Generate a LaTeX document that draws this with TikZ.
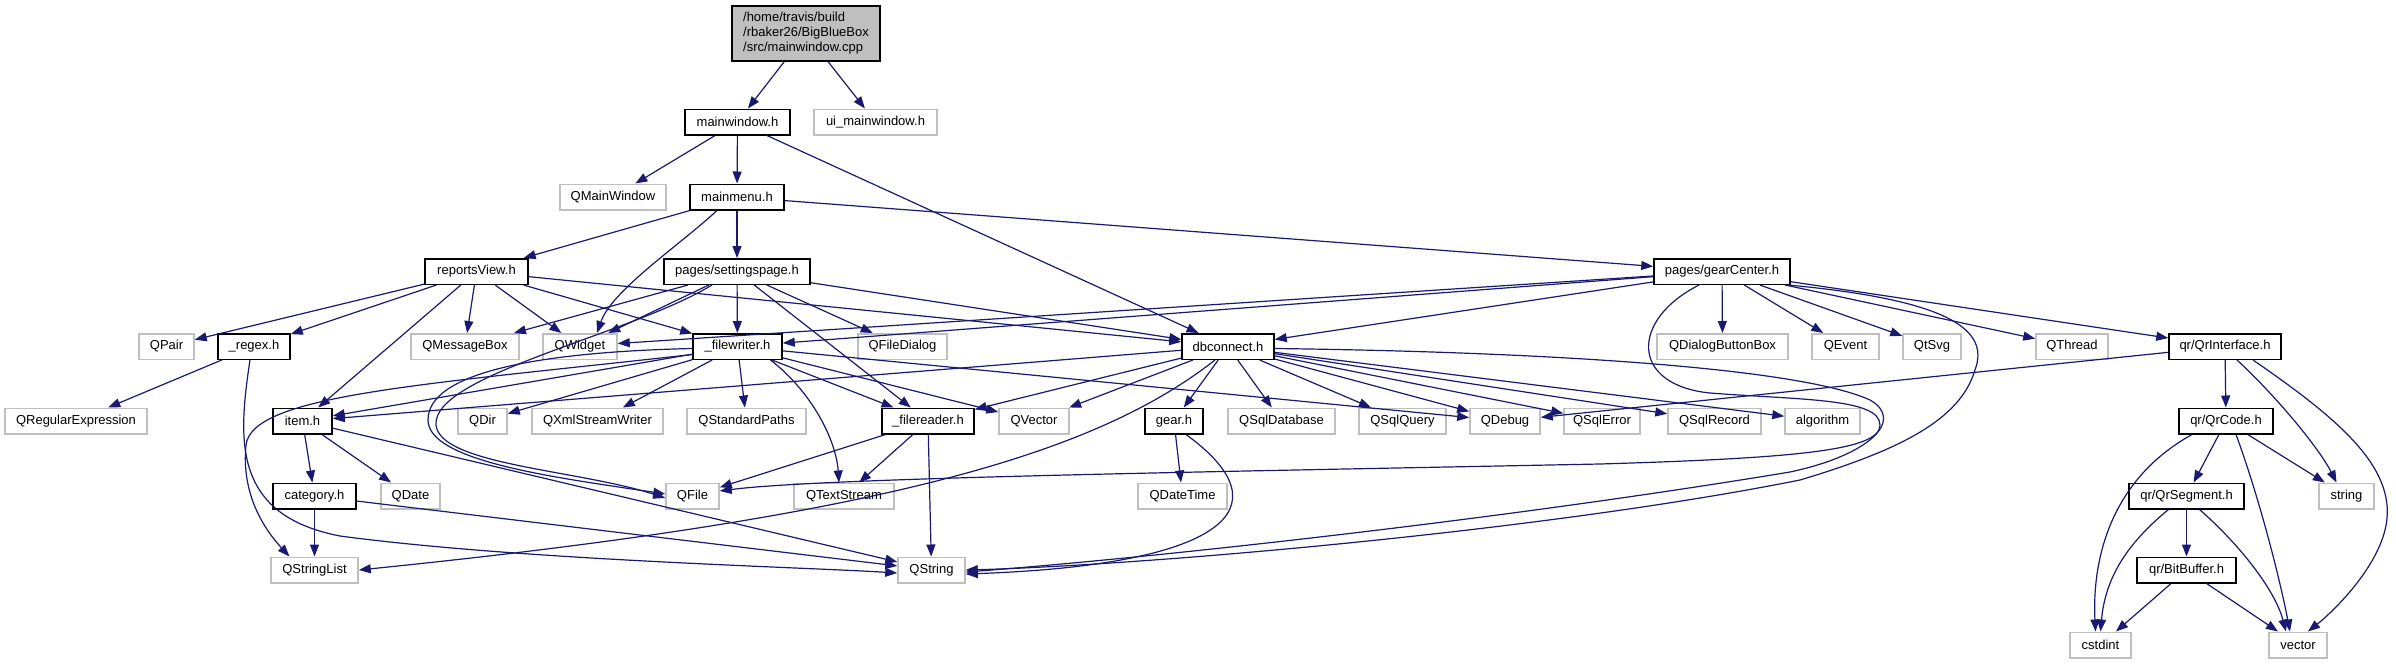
\documentclass[tikz,border=0pt]{standalone}
\usepackage{fontspec}
\setmainfont{Liberation Sans}
\usetikzlibrary{arrows.meta}
\definecolor{edgeblue}{HTML}{191970}
\definecolor{extgrey}{HTML}{BFBFBF}
\begin{document}
\begin{tikzpicture}[x=1pt,y=-1pt,
  box/.style={draw, line width=1.5pt, minimum height=25.5pt, inner sep=0pt, font=\fontsize{13}{15}\selectfont, anchor=center},
  doc/.style={box, draw=black},
  ext/.style={box, draw=extgrey},
  edge/.style={draw=edgeblue, line width=1.2pt, -{Triangle[length=12pt,width=9pt]}}]
\useasboundingbox (0,0) rectangle (2396,664);
% row 0-3
\node[doc, fill=extgrey, minimum width=148pt, minimum height=55pt, align=left] (root) at (806,33.5) {/home/travis/build\\/rbaker26/BigBlueBox\\/src/mainwindow.cpp};
\node[doc, minimum width=105pt] (mw) at (737.5,122) {mainwindow.h};
\node[ext, minimum width=123pt] (uimw) at (875.5,122) {ui\_mainwindow.h};
\node[ext, minimum width=106pt] (qmw) at (613,197) {QMainWindow};
\node[doc, minimum width=94pt] (mm) at (737,197) {mainmenu.h};
\node[doc, minimum width=103pt] (rv) at (476.5,271.5) {reportsView.h};
\node[doc, minimum width=146pt] (sp) at (737,271.5) {pages/settingspage.h};
\node[doc, minimum width=136pt] (gc) at (1722,271.5) {pages/gearCenter.h};
% row 4
\node[ext, minimum width=55pt] (qpair) at (166.5,346.5) {QPair};
\node[doc, minimum width=72pt] (regex) at (254,346.5) {\_regex.h};
\node[ext, minimum width=108pt] (qmsg) at (465,346.5) {QMessageBox};
\node[ext, minimum width=74pt] (qwidget) at (580,346.5) {QWidget};
\node[doc, minimum width=89pt] (fw) at (737.5,346.5) {\_filewriter.h};
\node[ext, minimum width=89pt] (qfd) at (902.5,346.5) {QFileDialog};
\node[doc, minimum width=92pt] (db) at (1228,346.5) {dbconnect.h};
\node[ext, minimum width=131pt] (qdbb) at (1722.5,346.5) {QDialogButtonBox};
\node[ext, minimum width=67pt] (qevent) at (1845.5,346.5) {QEvent};
\node[ext, minimum width=58pt] (qtsvg) at (1932,346.5) {QtSvg};
\node[ext, minimum width=72pt] (qthread) at (2072,346.5) {QThread};
\node[doc, minimum width=112pt] (qri) at (2225,346.5) {qr/QrInterface.h};
% row 5
\node[ext, minimum width=142pt] (qre) at (76,421) {QRegularExpression};
\node[doc, minimum width=59pt] (item) at (302.5,421) {item.h};
\node[ext, minimum width=49pt] (qdir) at (482.5,421) {QDir};
\node[ext, minimum width=131pt] (qxml) at (597.5,421) {QXmlStreamWriter};
\node[ext, minimum width=119pt] (qsp) at (746.5,421) {QStandardPaths};
\node[doc, minimum width=92pt] (fr) at (928,421) {\_filereader.h};
\node[ext, minimum width=70pt] (qvec) at (1034,421) {QVector};
\node[doc, minimum width=58pt] (gear) at (1174,421) {gear.h};
\node[ext, minimum width=107pt] (qsqldb) at (1281.5,421) {QSqlDatabase};
\node[ext, minimum width=87pt] (qsqlq) at (1402.5,421) {QSqlQuery};
\node[ext, minimum width=70pt] (qdebug) at (1505,421) {QDebug};
\node[ext, minimum width=76pt] (qsqlerr) at (1602,421) {QSqlError};
\node[ext, minimum width=93pt] (qsqlrec) at (1714.5,421) {QSqlRecord};
\node[ext, minimum width=75pt] (algo) at (1822.5,421) {algorithm};
\node[doc, minimum width=94pt] (qrcode) at (2226,421) {qr/QrCode.h};
% row 6
\node[doc, minimum width=83pt] (cat) at (314.5,496) {category.h};
\node[ext, minimum width=59pt] (qdate) at (410.5,496) {QDate};
\node[ext, minimum width=53pt] (qfile) at (692.5,496) {QFile};
\node[ext, minimum width=100pt] (qts) at (844,496) {QTextStream};
\node[ext, minimum width=89pt] (qdt) at (1182.5,496) {QDateTime};
\node[doc, minimum width=115pt] (qrseg) at (2186.5,496) {qr/QrSegment.h};
\node[ext, minimum width=55pt] (string) at (2346.5,496) {string};
% row 7-8
\node[ext, minimum width=87pt] (qsl) at (314.5,570) {QStringList};
\node[ext, minimum width=67pt] (qstring) at (931.5,570) {QString};
\node[doc, minimum width=99pt] (bitbuf) at (2186.5,570) {qr/BitBuffer.h};
\node[ext, minimum width=61pt] (cstdint) at (2100.5,645) {cstdint};
\node[ext, minimum width=58pt] (vector) at (2298,645) {vector};

% edges
\draw[edge] (root) -- (mw);
\draw[edge] (root) -- (uimw);
\draw[edge] (mw) -- (qmw);
\draw[edge] (mw) -- (mm);
\draw[edge] (mw) -- (db);
\draw[edge] (mm) -- (rv);
\draw[edge] (mm) -- (sp);
\draw[edge] (mm) -- (gc);
\draw[edge] ([xshift=-20pt]mm.south) .. controls (680,245) and (612,290) .. ([xshift=17pt]qwidget.north);
\draw[edge] (rv) -- (qpair);
\draw[edge] (rv) -- (regex);
\draw[edge] (rv) -- (item);
\draw[edge] (rv) -- (qmsg);
\draw[edge] (rv) -- (qwidget);
\draw[edge] (rv) -- (fw);
\draw[edge] (rv) -- (db);
\draw[edge] (sp) -- (qmsg);
\draw[edge] (sp) -- (qwidget);
\draw[edge] (sp) -- (fw);
\draw[edge] (sp) -- (qfd);
\draw[edge] (sp) -- (fr);
\draw[edge] (sp) -- (db);
\draw[edge] ([xshift=-25pt]sp.south) .. controls (630,335) and (432,375) .. (436,425) .. controls (440,465) and (580,470) .. ([yshift=-2pt]qfile.west);
\draw[edge] (gc) -- ([yshift=3pt]qwidget.east);
\draw[edge] (gc) -- (fw);
\draw[edge] (gc) -- (db);
\draw[edge] (gc) -- (qdbb);
\draw[edge] (gc) -- (qevent);
\draw[edge] (gc) -- (qtsvg);
\draw[edge] (gc) -- (qthread);
\draw[edge] (gc) -- (qri);
\draw[edge] ([xshift=-23pt]gc.south) .. controls (1630,320) and (1630,385) .. (1710,393) .. controls (1800,400) and (1880,398) .. (1880,425) .. controls (1880,450) and (1800,458) .. (1600,464) .. controls (1200,472) and (820,478) .. ([yshift=5pt]qfile.east);
\draw[edge] ([xshift=66pt]gc.south) .. controls (1950,300) and (1990,330) .. (1975,370) .. controls (1960,420) and (1900,450) .. (1800,480) .. controls (1550,530) and (1150,565) .. (qstring.east);
\draw[edge] (regex) -- (qre);
\draw[edge] ([xshift=-4pt]regex.south) .. controls (238,440) and (232,515) .. (340,536) .. controls (520,560) and (800,567) .. ([yshift=-3pt]qstring.west);
\draw[edge] (fw) -- (item);
\draw[edge] (fw) -- (qdir);
\draw[edge] (fw) -- (qxml);
\draw[edge] (fw) -- (qsp);
\draw[edge] (fw) -- (fr);
\draw[edge] (fw) -- (qvec);
\draw[edge] (fw) -- (qdebug);
\draw[edge] ([xshift=33pt]fw.south) .. controls (812,392) and (836,440) .. ([xshift=-5pt]qts.north);
\draw[edge] ([yshift=-2pt]fw.west) .. controls (540,352) and (428,372) .. (428,420) .. controls (428,462) and (560,478) .. ([yshift=2pt]qfile.west);
\draw[edge] ([yshift=-8pt]fw.west) .. controls (420,385) and (252,395) .. (246,445) .. controls (241,495) and (265,530) .. ([xshift=-25pt]qsl.north);
\draw[edge] (db) -- (item);
\draw[edge] (db) -- (fr);
\draw[edge] (db) -- (qvec);
\draw[edge] (db) -- (gear);
\draw[edge] (db) -- (qsqldb);
\draw[edge] (db) -- (qsqlq);
\draw[edge] (db) -- (qdebug);
\draw[edge] (db) -- (qsqlerr);
\draw[edge] (db) -- (qsqlrec);
\draw[edge] (db) -- (algo);
\draw[edge] ([xshift=-13pt]db.south) .. controls (1100,450) and (900,515) .. (qsl.east);
\draw[edge] ([yshift=-2pt]db.east) .. controls (1550,352) and (1800,368) .. (1870,400) .. controls (1905,420) and (1870,455) .. (1790,472) .. controls (1500,520) and (1150,558) .. ([yshift=-2pt]qstring.east);
\draw[edge] (qri) -- (qdebug);
\draw[edge] (qri) -- (qrcode);
\draw[edge] ([xshift=12pt]qri.south) .. controls (2280,400) and (2320,450) .. ([xshift=-10pt]string.north);
\draw[edge] ([xshift=28pt]qri.south) .. controls (2340,420) and (2400,470) .. (2385,530) .. controls (2375,570) and (2335,610) .. ([xshift=10pt]vector.north);
\draw[edge] (item) -- (cat);
\draw[edge] (item) -- (qdate);
\draw[edge] (item) -- (qstring);
\draw[edge] (fr) -- (qfile);
\draw[edge] (fr) -- (qts);
\draw[edge] (fr) -- (qstring);
\draw[edge] (gear) -- (qdt);
\draw[edge] ([xshift=12pt]gear.south) .. controls (1290,510) and (1220,565) .. ([yshift=-4pt]qstring.east);
\draw[edge] (cat) -- (qsl);
\draw[edge] (cat) -- (qstring);
\draw[edge] (qrcode) -- (qrseg);
\draw[edge] (qrcode) -- (string);
\draw[edge] ([xshift=-34pt]qrcode.south) .. controls (2110,480) and (2092,560) .. ([xshift=-5pt]cstdint.north);
\draw[edge] ([xshift=10pt]qrcode.south) .. controls (2260,500) and (2280,580) .. ([xshift=-8pt]vector.north);
\draw[edge] (qrseg) -- (bitbuf);
\draw[edge] ([xshift=-18pt]qrseg.south) .. controls (2125,545) and (2105,580) .. (cstdint.north);
\draw[edge] ([xshift=13pt]qrseg.south) .. controls (2240,545) and (2275,590) .. ([xshift=-12pt]vector.north);
\draw[edge] (bitbuf) -- (cstdint);
\draw[edge] (bitbuf) -- (vector);
\end{tikzpicture}
\end{document}
